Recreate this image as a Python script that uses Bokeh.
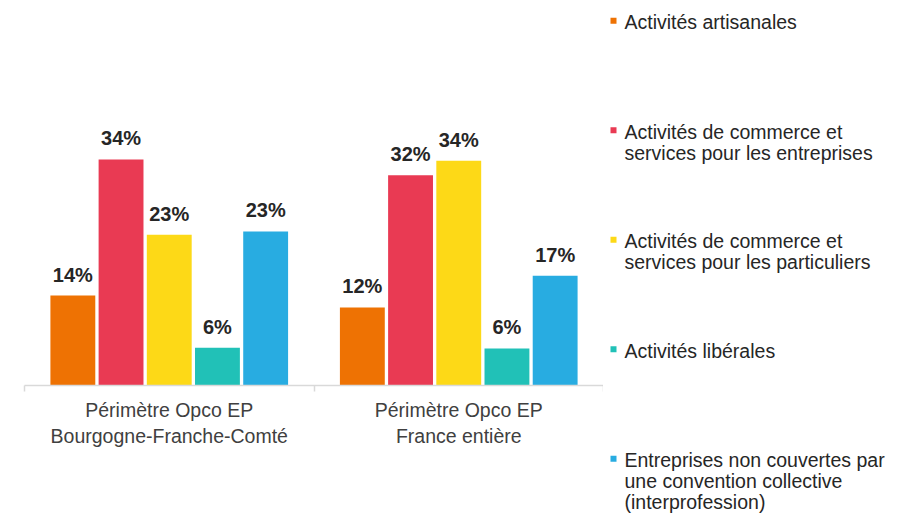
from bokeh.plotting import figure
from bokeh.models import Range1d, FixedTicker, LinearAxis, ColumnDataSource
from bokeh.transform import dodge
from bokeh.layouts import row
from bokeh.embed import file_html
from bokeh.resources import INLINE
from bokeh.core.properties import value

# ---- data ----
groups = ["Périmètre Opco EP\nBourgogne-Franche-Comté",
          "Périmètre Opco EP\nFrance entière"]
series = ["Activités artisanales",
          "Activités de commerce et\nservices pour les entreprises",
          "Activités de commerce et\nservices pour les particuliers",
          "Activités libérales",
          "Entreprises non couvertes par\nune convention collective\n(interprofession)"]
colors = ["#EE7203", "#E93A53", "#FDD917", "#21C1B7", "#28ACE1"]
bourgogne = [13.6, 34.2, 22.8, 5.7, 23.3]
france = [11.8, 31.8, 34.0, 5.6, 16.6]

FONT = "Liberation Sans"
offsets = [-0.333, -0.1665, 0.0, 0.1665, 0.333]
group_x = [i + 0.5 for i in range(len(groups))]

W, H = 897, 513
FL, FR, FB = 24, 603, 385
YMAX = 58.24
NX = len(groups)

p = figure(width=FR, height=H, x_range=Range1d(0, NX), y_range=Range1d(0, YMAX),
           x_axis_type=None, y_axis_type=None, toolbar_location=None, output_backend="svg",
           min_border_left=FL, min_border_right=0, min_border_top=0,
           min_border_bottom=H - FB)
p.frame_align = False
p.outline_line_color = None
p.background_fill_color = "white"

for i, name in enumerate(series):
    vals = [bourgogne[i], france[i]]
    src = ColumnDataSource(dict(x=group_x, top=vals, lab=[f"{round(v)}%" for v in vals]))
    p.vbar(x=dodge("x", offsets[i], range=p.x_range), top="top", width=0.155, source=src,
           fill_color=colors[i], line_color=None)
    p.text(x=dodge("x", offsets[i], range=p.x_range), y="top", text="lab", source=src,
           text_align="center", text_baseline="alphabetic", y_offset=-21,
           text_font=value(FONT), text_font_size="20px", text_font_style="bold",
           text_color="#262626")

ax = LinearAxis(ticker=FixedTicker(ticks=group_x, minor_ticks=list(range(NX + 1))))
ax.bounds = (0, NX)
ax.axis_line_color = "#d9d9d9"
ax.axis_line_width = 1.5
ax.major_tick_line_color = None
ax.major_tick_out = 0
ax.major_tick_in = 0
ax.minor_tick_line_color = "#d9d9d9"
ax.minor_tick_line_width = 1.5
ax.minor_tick_out = 6
ax.minor_tick_in = 0
ax.major_label_overrides = {group_x[k]: groups[k] for k in range(NX)}
ax.major_label_text_font = FONT
ax.major_label_text_font_size = "19.5px"
ax.major_label_text_color = "#404040"
ax.major_label_standoff = 7
p.add_layout(ax, "below")

# ---- legend panel (pixel-space figure, y downwards) ----
LW = W - FR
lf = figure(width=LW, height=H, x_range=Range1d(0, LW), y_range=Range1d(H, 0),
            x_axis_type=None, y_axis_type=None, toolbar_location=None, output_backend="svg",
            min_border=0)
lf.frame_align = False
lf.outline_line_color = None
STEP = 109.5
n = len(series)
lf.scatter(x=[10] * n, y=[20.2 + k * STEP for k in range(n)], marker="square", size=6,
           fill_color=colors, line_color=None)
lf.text(x=[21] * n, y=[10.7 + k * STEP for k in range(n)], text=series,
        text_baseline="top", text_align="left",
        text_font=value(FONT), text_font_size="19.5px", text_color="#262626",
        text_line_height=0.96)

open("out.html", "w").write(file_html(row(p, lf), INLINE))
